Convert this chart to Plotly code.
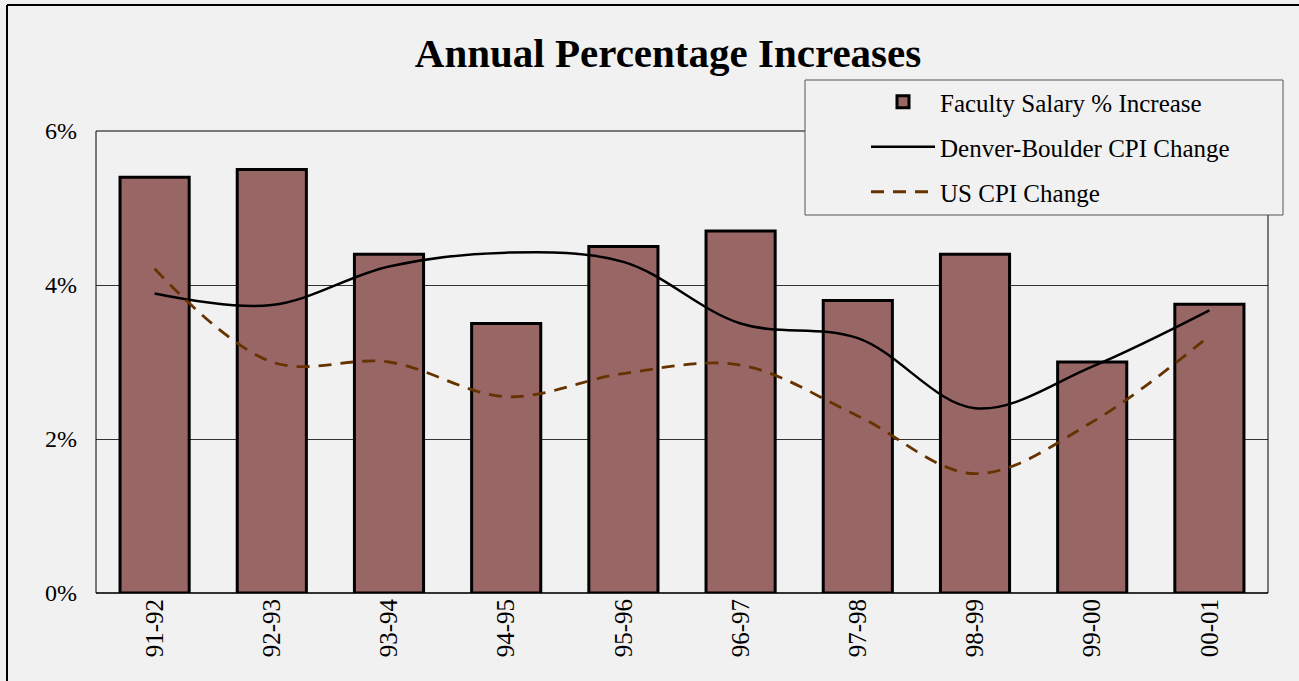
import plotly.graph_objects as go

categories = ["91-92", "92-93", "93-94", "94-95", "95-96", "96-97", "97-98", "98-99", "99-00", "00-01"]
faculty_salary = [5.4, 5.5, 4.4, 3.5, 4.5, 4.7, 3.8, 4.4, 3.0, 3.75]
denver_cpi = [3.89, 3.74, 4.24, 4.42, 4.30, 3.50, 3.31, 2.40, 2.94, 3.67]
us_cpi = [4.21, 3.0, 3.0, 2.55, 2.85, 2.96, 2.30, 1.55, 2.22, 3.34]
y_ticks = [0, 2, 4, 6]
y_tick_labels = ["0%", "2%", "4%", "6%"]

BG = "#f1f1f1"
FONT = "Liberation Serif"

fig = go.Figure()
fig.add_trace(go.Bar(
    x=categories, y=faculty_salary, name="Faculty Salary % Increase",
    marker=dict(color="#996666", line=dict(color="#000000", width=3)),
    legendgroup="a",
))
fig.add_trace(go.Scatter(
    x=categories, y=denver_cpi, name="Denver-Boulder CPI Change", mode="lines",
    line=dict(color="#000000", width=2.5, shape="spline", smoothing=1.0),
    legendgroup="b",
))
fig.add_trace(go.Scatter(
    x=categories, y=us_cpi, name="US CPI Change", mode="lines",
    line=dict(color="#663300", width=2.8, dash="13px,9px", shape="spline", smoothing=1.0),
    legendgroup="c",
))

W, H = 1299, 681
L, R, T, B = 96, 31, 131, 88
pw = W - L - R
ph = H - T - B

def px_x(x):
    return (x - L) / pw

def px_y(y):
    return (H - B - y) / ph

# plot area border
fig.add_shape(type="rect", xref="paper", yref="paper", x0=0, x1=1, y0=0, y1=1,
              line=dict(color="#000000", width=1), layer="above")
# outer chart border (left and top)
fig.add_shape(type="line", xref="paper", yref="paper",
              x0=px_x(7), x1=px_x(7), y0=px_y(H + 5), y1=px_y(5),
              line=dict(color="#000000", width=2))
fig.add_shape(type="line", xref="paper", yref="paper",
              x0=px_x(7), x1=px_x(W + 5), y0=px_y(5), y1=px_y(5),
              line=dict(color="#000000", width=2))
# legend box
fig.add_shape(type="rect", xref="paper", yref="paper",
              x0=px_x(805), x1=px_x(1283), y0=px_y(215), y1=px_y(80),
              line=dict(color="#555555", width=1), fillcolor=BG, layer="above")

fig.update_layout(
    width=W, height=H,
    margin=dict(l=L, r=R, t=T, b=B),
    paper_bgcolor=BG, plot_bgcolor=BG,
    font=dict(family=FONT, color="#000000", size=24),
    title=dict(text="<b>Annual Percentage Increases</b>", x=668 / W, xanchor="center",
               y=1 - 53 / H, yanchor="middle", font=dict(family=FONT, size=41, color="#000000")),
    bargap=0.41,
    showlegend=True,
    legend=dict(
        x=px_x(866), xanchor="left", y=px_y(79), yanchor="top",
        bgcolor="rgba(0,0,0,0)", borderwidth=0,
        font=dict(family=FONT, size=25), tracegroupgap=9.5,
        itemwidth=64,
    ),
    xaxis=dict(
        type="category", tickangle=-90, showgrid=False, ticks="",
        showline=False, tickfont=dict(family=FONT, size=25),
    ),
    yaxis=dict(
        range=[0, 6], tickvals=y_ticks, ticktext=y_tick_labels,
        showgrid=True, gridcolor="#333333", gridwidth=1, zeroline=True,
        zerolinecolor="#666666", zerolinewidth=1.5,
        ticks="", tickfont=dict(family=FONT, size=24), ticklabelstandoff=18,
    ),
)

fig.write_html("out.html", config={"displayModeBar": False},
               post_script="document.body.style.margin='0';")
